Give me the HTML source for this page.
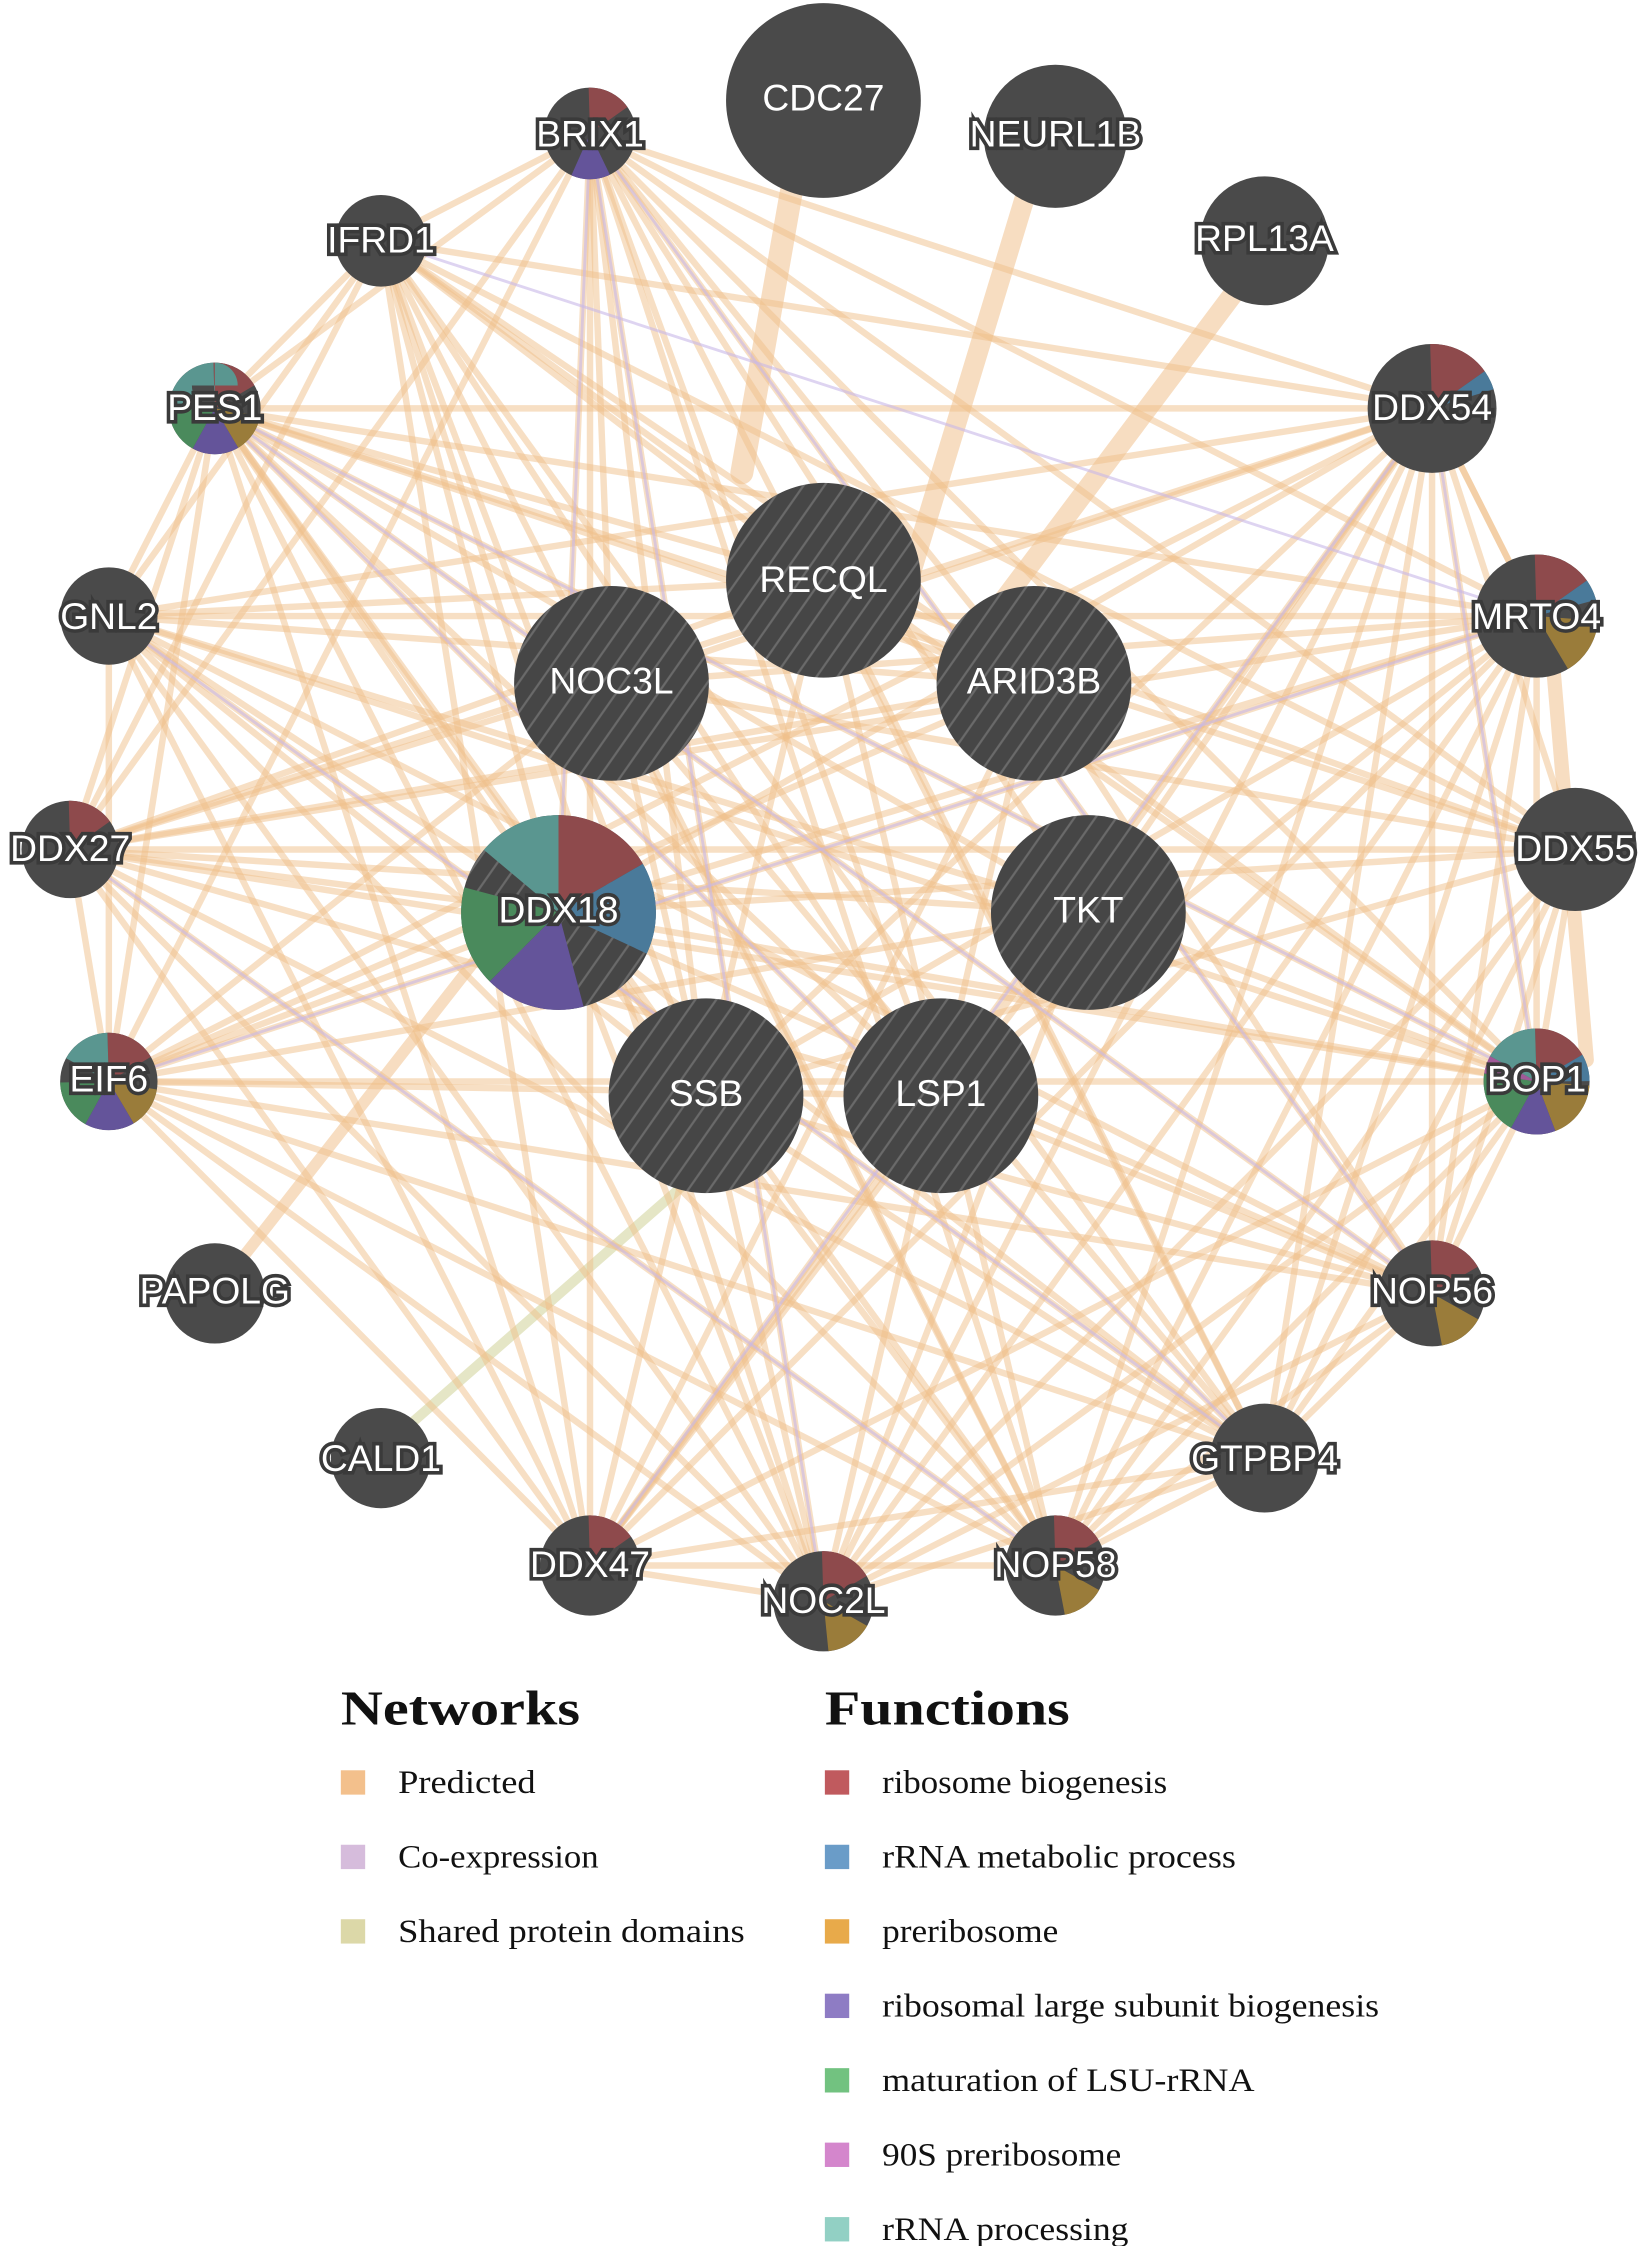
<!DOCTYPE html>
<html><head><meta charset="utf-8"><style>
html,body{margin:0;padding:0;background:#fff;}
svg{display:block;}
.lbl{font-family:"Liberation Sans",sans-serif;font-size:26px;fill:#fff;stroke:#3a3a3a;stroke-width:5px;paint-order:stroke;text-anchor:middle;dominant-baseline:central;}
.c{stroke-width:0px;}
.lg{font-family:"Liberation Serif",serif;font-size:23px;fill:#111;}
.lh{font-family:"Liberation Serif",serif;font-size:34px;font-weight:bold;fill:#111;}
</style></head><body>
<svg width="1644" height="2246" viewBox="0 0 1148 1568" xmlns="http://www.w3.org/2000/svg">
<defs>
<pattern id="h" width="12" height="12" patternUnits="userSpaceOnUse" patternTransform="rotate(-55)">
<rect width="12" height="12" fill="#464646"/><line x1="0" y1="6" x2="12" y2="6" stroke="#6a6a6a" stroke-width="1.5"/>
</pattern>
</defs>
<!-- thick edges -->
<g stroke="#f3cfa6" stroke-opacity="0.7" stroke-linecap="round">
<line x1="555" y1="120" x2="518" y2="330" stroke-width="16"/>
<line x1="718" y1="130" x2="630" y2="420" stroke-width="14"/>
<line x1="865" y1="200" x2="700" y2="420" stroke-width="14"/>
<line x1="1085" y1="470" x2="1108" y2="740" stroke-width="10"/>
<line x1="160" y1="890" x2="340" y2="660" stroke-width="8"/>
</g>
<line x1="280" y1="1000" x2="520" y2="790" stroke="#dfe0b8" stroke-width="7" stroke-opacity="0.8"/>
<!-- predicted edges -->
<g stroke="#f0c08a" stroke-opacity="0.5" stroke-width="4.5">
<line x1="412" y1="93" x2="266" y2="168"/><line x1="412" y1="93" x2="150" y2="285"/><line x1="412" y1="93" x2="1000" y2="285"/>
<line x1="412" y1="93" x2="1073" y2="430"/><line x1="412" y1="93" x2="412" y2="1093"/><line x1="412" y1="93" x2="575" y2="1118"/>
<line x1="412" y1="93" x2="737" y2="1093"/><line x1="412" y1="93" x2="883" y2="1018"/><line x1="412" y1="93" x2="1000" y2="903"/>
<line x1="412" y1="93" x2="76" y2="755"/><line x1="412" y1="93" x2="49" y2="593"/><line x1="412" y1="93" x2="1073" y2="755"/>
<line x1="266" y1="168" x2="1000" y2="285"/><line x1="266" y1="168" x2="575" y2="1118"/><line x1="266" y1="168" x2="883" y2="1018"/>
<line x1="266" y1="168" x2="76" y2="430"/><line x1="266" y1="168" x2="737" y2="1093"/><line x1="266" y1="168" x2="1073" y2="755"/>
<line x1="150" y1="285" x2="1000" y2="285"/><line x1="150" y1="285" x2="1073" y2="430"/><line x1="150" y1="285" x2="1100" y2="593"/>
<line x1="150" y1="285" x2="1073" y2="755"/><line x1="150" y1="285" x2="1000" y2="903"/><line x1="150" y1="285" x2="883" y2="1018"/>
<line x1="150" y1="285" x2="737" y2="1093"/><line x1="150" y1="285" x2="575" y2="1118"/><line x1="150" y1="285" x2="412" y2="1093"/>
<line x1="150" y1="285" x2="76" y2="755"/><line x1="150" y1="285" x2="49" y2="593"/><line x1="150" y1="285" x2="76" y2="430"/>
<line x1="76" y1="430" x2="1000" y2="285"/><line x1="76" y1="430" x2="1073" y2="430"/><line x1="76" y1="430" x2="1073" y2="755"/>
<line x1="76" y1="430" x2="883" y2="1018"/><line x1="76" y1="430" x2="737" y2="1093"/><line x1="76" y1="430" x2="575" y2="1118"/>
<line x1="76" y1="430" x2="412" y2="1093"/><line x1="76" y1="430" x2="76" y2="755"/><line x1="76" y1="430" x2="1000" y2="903"/>
<line x1="49" y1="593" x2="1000" y2="285"/><line x1="49" y1="593" x2="1073" y2="430"/><line x1="49" y1="593" x2="1100" y2="593"/>
<line x1="49" y1="593" x2="1073" y2="755"/><line x1="49" y1="593" x2="883" y2="1018"/><line x1="49" y1="593" x2="575" y2="1118"/>
<line x1="49" y1="593" x2="412" y2="1093"/><line x1="49" y1="593" x2="737" y2="1093"/><line x1="49" y1="593" x2="76" y2="755"/>
<line x1="76" y1="755" x2="1000" y2="285"/><line x1="76" y1="755" x2="1073" y2="430"/><line x1="76" y1="755" x2="1073" y2="755"/>
<line x1="76" y1="755" x2="1000" y2="903"/><line x1="76" y1="755" x2="883" y2="1018"/><line x1="76" y1="755" x2="737" y2="1093"/>
<line x1="76" y1="755" x2="575" y2="1118"/><line x1="76" y1="755" x2="412" y2="1093"/>
<line x1="412" y1="1093" x2="1000" y2="285"/><line x1="412" y1="1093" x2="1073" y2="430"/><line x1="412" y1="1093" x2="1073" y2="755"/>
<line x1="412" y1="1093" x2="883" y2="1018"/><line x1="412" y1="1093" x2="737" y2="1093"/><line x1="412" y1="1093" x2="575" y2="1118"/>
<line x1="575" y1="1118" x2="1000" y2="285"/><line x1="575" y1="1118" x2="1073" y2="430"/><line x1="575" y1="1118" x2="1073" y2="755"/>
<line x1="575" y1="1118" x2="883" y2="1018"/><line x1="575" y1="1118" x2="1000" y2="903"/>
<line x1="737" y1="1093" x2="1000" y2="285"/><line x1="737" y1="1093" x2="1073" y2="430"/><line x1="737" y1="1093" x2="1073" y2="755"/>
<line x1="737" y1="1093" x2="883" y2="1018"/><line x1="737" y1="1093" x2="1000" y2="903"/>
<line x1="883" y1="1018" x2="1000" y2="285"/><line x1="883" y1="1018" x2="1073" y2="430"/><line x1="883" y1="1018" x2="1073" y2="755"/>
<line x1="883" y1="1018" x2="1000" y2="903"/><line x1="883" y1="1018" x2="1100" y2="593"/>
<line x1="1000" y1="903" x2="1000" y2="285"/><line x1="1000" y1="903" x2="1073" y2="430"/><line x1="1000" y1="903" x2="1073" y2="755"/>
<line x1="1073" y1="755" x2="1000" y2="285"/><line x1="1073" y1="755" x2="1073" y2="430"/><line x1="1073" y1="430" x2="1000" y2="285"/>
<line x1="1100" y1="593" x2="1000" y2="285"/><line x1="1100" y1="593" x2="1073" y2="755"/>
<line x1="390" y1="637" x2="1000" y2="285"/><line x1="390" y1="637" x2="1073" y2="430"/><line x1="390" y1="637" x2="1073" y2="755"/>
<line x1="390" y1="637" x2="883" y2="1018"/><line x1="390" y1="637" x2="737" y2="1093"/><line x1="390" y1="637" x2="575" y2="1118"/>
<line x1="390" y1="637" x2="412" y2="93"/><line x1="390" y1="637" x2="150" y2="285"/><line x1="390" y1="637" x2="49" y2="593"/>
<line x1="390" y1="637" x2="1000" y2="903"/><line x1="390" y1="637" x2="1100" y2="593"/>
<line x1="575" y1="405" x2="266" y2="168"/><line x1="575" y1="405" x2="883" y2="1018"/><line x1="575" y1="405" x2="49" y2="593"/>
<line x1="427" y1="477" x2="1073" y2="430"/><line x1="427" y1="477" x2="737" y2="1093"/><line x1="427" y1="477" x2="76" y2="755"/>
<line x1="722" y1="477" x2="150" y2="285"/><line x1="722" y1="477" x2="412" y2="1093"/><line x1="722" y1="477" x2="76" y2="430"/>
<line x1="760" y1="637" x2="412" y2="93"/><line x1="760" y1="637" x2="49" y2="593"/><line x1="760" y1="637" x2="1000" y2="285"/>
<line x1="493" y1="765" x2="1073" y2="430"/><line x1="493" y1="765" x2="412" y2="93"/><line x1="657" y1="765" x2="150" y2="285"/>
<line x1="657" y1="765" x2="1000" y2="903"/><line x1="657" y1="765" x2="266" y2="168"/><line x1="493" y1="765" x2="1000" y2="903"/>
<!-- extra -->
<line x1="575" y1="405" x2="76" y2="430"/><line x1="575" y1="405" x2="1100" y2="593"/><line x1="575" y1="405" x2="412" y2="1093"/>
<line x1="575" y1="405" x2="1073" y2="755"/><line x1="575" y1="405" x2="150" y2="285"/><line x1="575" y1="405" x2="737" y2="1093"/>
<line x1="427" y1="477" x2="1000" y2="285"/><line x1="427" y1="477" x2="883" y2="1018"/><line x1="427" y1="477" x2="575" y2="1118"/>
<line x1="427" y1="477" x2="1100" y2="593"/><line x1="427" y1="477" x2="412" y2="93"/><line x1="427" y1="477" x2="49" y2="593"/>
<line x1="722" y1="477" x2="49" y2="593"/><line x1="722" y1="477" x2="575" y2="1118"/><line x1="722" y1="477" x2="76" y2="755"/>
<line x1="722" y1="477" x2="266" y2="168"/><line x1="722" y1="477" x2="1000" y2="903"/><line x1="722" y1="477" x2="412" y2="93"/>
<line x1="760" y1="637" x2="150" y2="285"/><line x1="760" y1="637" x2="76" y2="755"/><line x1="760" y1="637" x2="412" y2="1093"/>
<line x1="760" y1="637" x2="76" y2="430"/><line x1="760" y1="637" x2="1073" y2="755"/><line x1="760" y1="637" x2="575" y2="1118"/>
<line x1="493" y1="765" x2="1000" y2="285"/><line x1="493" y1="765" x2="150" y2="285"/><line x1="493" y1="765" x2="76" y2="430"/>
<line x1="493" y1="765" x2="1100" y2="593"/><line x1="493" y1="765" x2="883" y2="1018"/><line x1="493" y1="765" x2="266" y2="168"/>
<line x1="657" y1="765" x2="412" y2="93"/><line x1="657" y1="765" x2="49" y2="593"/><line x1="657" y1="765" x2="1073" y2="430"/>
<line x1="657" y1="765" x2="76" y2="755"/><line x1="657" y1="765" x2="1000" y2="285"/><line x1="657" y1="765" x2="412" y2="1093"/>
<line x1="390" y1="637" x2="266" y2="168"/><line x1="390" y1="637" x2="76" y2="430"/><line x1="390" y1="637" x2="76" y2="755"/>
<line x1="266" y1="168" x2="49" y2="593"/><line x1="266" y1="168" x2="1100" y2="593"/><line x1="266" y1="168" x2="412" y2="1093"/>
<line x1="412" y1="93" x2="1100" y2="593"/><line x1="150" y1="285" x2="266" y2="168"/><line x1="1100" y1="593" x2="737" y2="1093"/>
<line x1="1100" y1="593" x2="575" y2="1118"/><line x1="1100" y1="593" x2="1000" y2="903"/><line x1="1000" y1="285" x2="1073" y2="430"/>
</g>
<!-- coexpression edges -->
<g stroke="#c8b8e8" stroke-opacity="0.6" stroke-width="2">
<line x1="412" y1="93" x2="390" y2="637"/><line x1="412" y1="93" x2="575" y2="1118"/><line x1="150" y1="285" x2="1000" y2="903"/>
<line x1="76" y1="430" x2="883" y2="1018"/><line x1="49" y1="593" x2="737" y2="1093"/><line x1="1000" y1="285" x2="412" y2="1093"/>
<line x1="1073" y1="430" x2="76" y2="755"/><line x1="1073" y1="755" x2="150" y2="285"/><line x1="266" y1="168" x2="1073" y2="430"/>
<line x1="1000" y1="285" x2="1073" y2="755"/><line x1="412" y1="93" x2="1000" y2="903"/><line x1="150" y1="285" x2="883" y2="1018"/>
</g>
<!-- nodes -->
<g fill="#4a4a4a">
<circle cx="575" cy="70" r="68"/><circle cx="737" cy="95" r="50"/><circle cx="883" cy="168" r="45"/>
<circle cx="412" cy="93" r="32"/><circle cx="266" cy="168" r="32"/><circle cx="150" cy="285" r="32"/>
<circle cx="76" cy="430" r="34"/><circle cx="49" cy="593" r="34"/><circle cx="76" cy="755" r="34"/>
<circle cx="150" cy="903" r="35"/><circle cx="266" cy="1018" r="35"/><circle cx="412" cy="1093" r="35"/>
<circle cx="575" cy="1118" r="35"/><circle cx="737" cy="1093" r="35"/><circle cx="883" cy="1018" r="38"/>
<circle cx="1000" cy="903" r="37"/><circle cx="1073" cy="755" r="37"/><circle cx="1100" cy="593" r="43"/>
<circle cx="1073" cy="430" r="43"/><circle cx="1000" cy="285" r="45"/>
</g>
<g fill="url(#h)">
<circle cx="575" cy="405" r="68"/><circle cx="427" cy="477" r="68"/><circle cx="722" cy="477" r="68"/>
<circle cx="390" cy="637" r="68"/><circle cx="760" cy="637" r="68"/><circle cx="493" cy="765" r="68"/><circle cx="657" cy="765" r="68"/>
</g>
<!-- pie wedges -->
<g fill="none">
<g transform="rotate(-90 390 637)" stroke-width="68">
<circle cx="390" cy="637" r="34" pathLength="360" stroke="#8e4a4c" stroke-dasharray="60 300"/>
<circle cx="390" cy="637" r="34" pathLength="360" stroke="#4a7a9a" stroke-dasharray="55 305" stroke-dashoffset="-60"/>
<circle cx="390" cy="637" r="34" pathLength="360" stroke="#64549a" stroke-dasharray="60 300" stroke-dashoffset="-165"/>
<circle cx="390" cy="637" r="34" pathLength="360" stroke="#4a8a5c" stroke-dasharray="60 300" stroke-dashoffset="-225"/>
<circle cx="390" cy="637" r="34" pathLength="360" stroke="#5a9690" stroke-dasharray="50 310" stroke-dashoffset="-310"/>
</g>
<g transform="rotate(-90 412 93)" stroke-width="32">
<circle cx="412" cy="93" r="16" pathLength="360" stroke="#8e4a4c" stroke-dasharray="55 305"/>
<circle cx="412" cy="93" r="16" pathLength="360" stroke="#64549a" stroke-dasharray="50 310" stroke-dashoffset="-155"/>
</g>
<g transform="rotate(-90 150 285)" stroke-width="32">
<circle cx="150" cy="285" r="16" pathLength="360" stroke="#8e4a4c" stroke-dasharray="60 300"/>
<circle cx="150" cy="285" r="16" pathLength="360" stroke="#9a7c3a" stroke-dasharray="50 310" stroke-dashoffset="-100"/>
<circle cx="150" cy="285" r="16" pathLength="360" stroke="#64549a" stroke-dasharray="60 300" stroke-dashoffset="-150"/>
<circle cx="150" cy="285" r="16" pathLength="360" stroke="#4a8a5c" stroke-dasharray="60 300" stroke-dashoffset="-210"/>
<circle cx="150" cy="285" r="16" pathLength="360" stroke="#5a9690" stroke-dasharray="90 270" stroke-dashoffset="-270"/>
</g>
<g transform="rotate(-90 49 593)" stroke-width="34">
<circle cx="49" cy="593" r="17" pathLength="360" stroke="#8e4a4c" stroke-dasharray="55 305"/>
</g>
<g transform="rotate(-90 76 755)" stroke-width="34">
<circle cx="76" cy="755" r="17" pathLength="360" stroke="#8e4a4c" stroke-dasharray="60 300"/>
<circle cx="76" cy="755" r="17" pathLength="360" stroke="#9a7c3a" stroke-dasharray="50 310" stroke-dashoffset="-100"/>
<circle cx="76" cy="755" r="17" pathLength="360" stroke="#64549a" stroke-dasharray="60 300" stroke-dashoffset="-150"/>
<circle cx="76" cy="755" r="17" pathLength="360" stroke="#4a8a5c" stroke-dasharray="60 300" stroke-dashoffset="-210"/>
<circle cx="76" cy="755" r="17" pathLength="360" stroke="#5a9690" stroke-dasharray="60 300" stroke-dashoffset="-300"/>
</g>
<g transform="rotate(-90 412 1093)" stroke-width="35">
<circle cx="412" cy="1093" r="17.5" pathLength="360" stroke="#8e4a4c" stroke-dasharray="55 305"/>
</g>
<g transform="rotate(-90 575 1118)" stroke-width="35">
<circle cx="575" cy="1118" r="17.5" pathLength="360" stroke="#8e4a4c" stroke-dasharray="60 300"/>
<circle cx="575" cy="1118" r="17.5" pathLength="360" stroke="#9a7c3a" stroke-dasharray="55 305" stroke-dashoffset="-120"/>
</g>
<g transform="rotate(-90 737 1093)" stroke-width="35">
<circle cx="737" cy="1093" r="17.5" pathLength="360" stroke="#8e4a4c" stroke-dasharray="60 300"/>
<circle cx="737" cy="1093" r="17.5" pathLength="360" stroke="#9a7c3a" stroke-dasharray="50 310" stroke-dashoffset="-120"/>
</g>
<g transform="rotate(-90 1000 903)" stroke-width="37">
<circle cx="1000" cy="903" r="18.5" pathLength="360" stroke="#8e4a4c" stroke-dasharray="60 300"/>
<circle cx="1000" cy="903" r="18.5" pathLength="360" stroke="#9a7c3a" stroke-dasharray="50 310" stroke-dashoffset="-120"/>
</g>
<g transform="rotate(-90 1073 755)" stroke-width="37">
<circle cx="1073" cy="755" r="18.5" pathLength="360" stroke="#8e4a4c" stroke-dasharray="60 300"/>
<circle cx="1073" cy="755" r="18.5" pathLength="360" stroke="#4a7a9a" stroke-dasharray="30 330" stroke-dashoffset="-60"/>
<circle cx="1073" cy="755" r="18.5" pathLength="360" stroke="#9a7c3a" stroke-dasharray="65 295" stroke-dashoffset="-95"/>
<circle cx="1073" cy="755" r="18.5" pathLength="360" stroke="#64549a" stroke-dasharray="50 310" stroke-dashoffset="-160"/>
<circle cx="1073" cy="755" r="18.5" pathLength="360" stroke="#4a8a5c" stroke-dasharray="70 290" stroke-dashoffset="-210"/>
<circle cx="1073" cy="755" r="18.5" pathLength="360" stroke="#a05a98" stroke-dasharray="20 340" stroke-dashoffset="-280"/>
<circle cx="1073" cy="755" r="18.5" pathLength="360" stroke="#5a9690" stroke-dasharray="60 300" stroke-dashoffset="-300"/>
</g>
<g transform="rotate(-90 1073 430)" stroke-width="43">
<circle cx="1073" cy="430" r="21.5" pathLength="360" stroke="#8e4a4c" stroke-dasharray="55 305"/>
<circle cx="1073" cy="430" r="21.5" pathLength="360" stroke="#4a7a9a" stroke-dasharray="20 340" stroke-dashoffset="-55"/>
<circle cx="1073" cy="430" r="21.5" pathLength="360" stroke="#9a7c3a" stroke-dasharray="55 305" stroke-dashoffset="-95"/>
</g>
<g transform="rotate(-90 1000 285)" stroke-width="45">
<circle cx="1000" cy="285" r="22.5" pathLength="360" stroke="#8e4a4c" stroke-dasharray="55 305"/>
<circle cx="1000" cy="285" r="22.5" pathLength="360" stroke="#4a7a9a" stroke-dasharray="18 342" stroke-dashoffset="-55"/>
</g>
</g>
<!-- labels -->
<g>
<text class="lbl c" x="575" y="68">CDC27</text><text class="lbl" x="737" y="93">NEURL1B</text><text class="lbl" x="883" y="166">RPL13A</text>
<text class="lbl" x="412" y="93">BRIX1</text><text class="lbl" x="266" y="167">IFRD1</text><text class="lbl" x="150" y="284">PES1</text>
<text class="lbl" x="76" y="430">GNL2</text><text class="lbl" x="49" y="592">DDX27</text><text class="lbl" x="76" y="753">EIF6</text>
<text class="lbl" x="150" y="901">PAPOLG</text><text class="lbl" x="266" y="1018">CALD1</text><text class="lbl" x="412" y="1092">DDX47</text>
<text class="lbl" x="575" y="1117">NOC2L</text><text class="lbl" x="737" y="1092">NOP58</text><text class="lbl" x="883" y="1018">GTPBP4</text>
<text class="lbl" x="1000" y="901">NOP56</text><text class="lbl" x="1073" y="753">BOP1</text><text class="lbl" x="1100" y="592">DDX55</text>
<text class="lbl" x="1073" y="430">MRTO4</text><text class="lbl" x="1000" y="284">DDX54</text>
<text class="lbl c" x="575" y="404">RECQL</text><text class="lbl c" x="427" y="475">NOC3L</text><text class="lbl c" x="722" y="475">ARID3B</text>
<text class="lbl" x="390" y="635">DDX18</text><text class="lbl c" x="760" y="635">TKT</text><text class="lbl c" x="493" y="763">SSB</text><text class="lbl c" x="657" y="763">LSP1</text>
</g>
<!-- legend -->
<text class="lh" x="238" y="1204" textLength="167" lengthAdjust="spacingAndGlyphs">Networks</text>
<text class="lh" x="576" y="1204" textLength="171" lengthAdjust="spacingAndGlyphs">Functions</text>
<rect x="238" y="1236" width="17" height="17" fill="#f3c08c"/><text class="lg" x="278" y="1252" textLength="96" lengthAdjust="spacingAndGlyphs">Predicted</text>
<rect x="238" y="1288" width="17" height="17" fill="#d6bcdc"/><text class="lg" x="278" y="1304" textLength="140" lengthAdjust="spacingAndGlyphs">Co-expression</text>
<rect x="238" y="1340" width="17" height="17" fill="#dcd8a8"/><text class="lg" x="278" y="1356" textLength="242" lengthAdjust="spacingAndGlyphs">Shared protein domains</text>
<rect x="576" y="1236" width="17" height="17" fill="#c05a5e"/><text class="lg" x="616" y="1252" textLength="199" lengthAdjust="spacingAndGlyphs">ribosome biogenesis</text>
<rect x="576" y="1288" width="17" height="17" fill="#6a9cc8"/><text class="lg" x="616" y="1304" textLength="247" lengthAdjust="spacingAndGlyphs">rRNA metabolic process</text>
<rect x="576" y="1340" width="17" height="17" fill="#e8aa4a"/><text class="lg" x="616" y="1356" textLength="123" lengthAdjust="spacingAndGlyphs">preribosome</text>
<rect x="576" y="1392" width="17" height="17" fill="#8e7cc4"/><text class="lg" x="616" y="1408" textLength="347" lengthAdjust="spacingAndGlyphs">ribosomal large subunit biogenesis</text>
<rect x="576" y="1444" width="17" height="17" fill="#72c280"/><text class="lg" x="616" y="1460" textLength="260" lengthAdjust="spacingAndGlyphs">maturation of LSU-rRNA</text>
<rect x="576" y="1496" width="17" height="17" fill="#d486cc"/><text class="lg" x="616" y="1512" textLength="167" lengthAdjust="spacingAndGlyphs">90S preribosome</text>
<rect x="576" y="1548" width="17" height="17" fill="#92d0c4"/><text class="lg" x="616" y="1564" textLength="172" lengthAdjust="spacingAndGlyphs">rRNA processing</text>
</svg>
</body></html>
